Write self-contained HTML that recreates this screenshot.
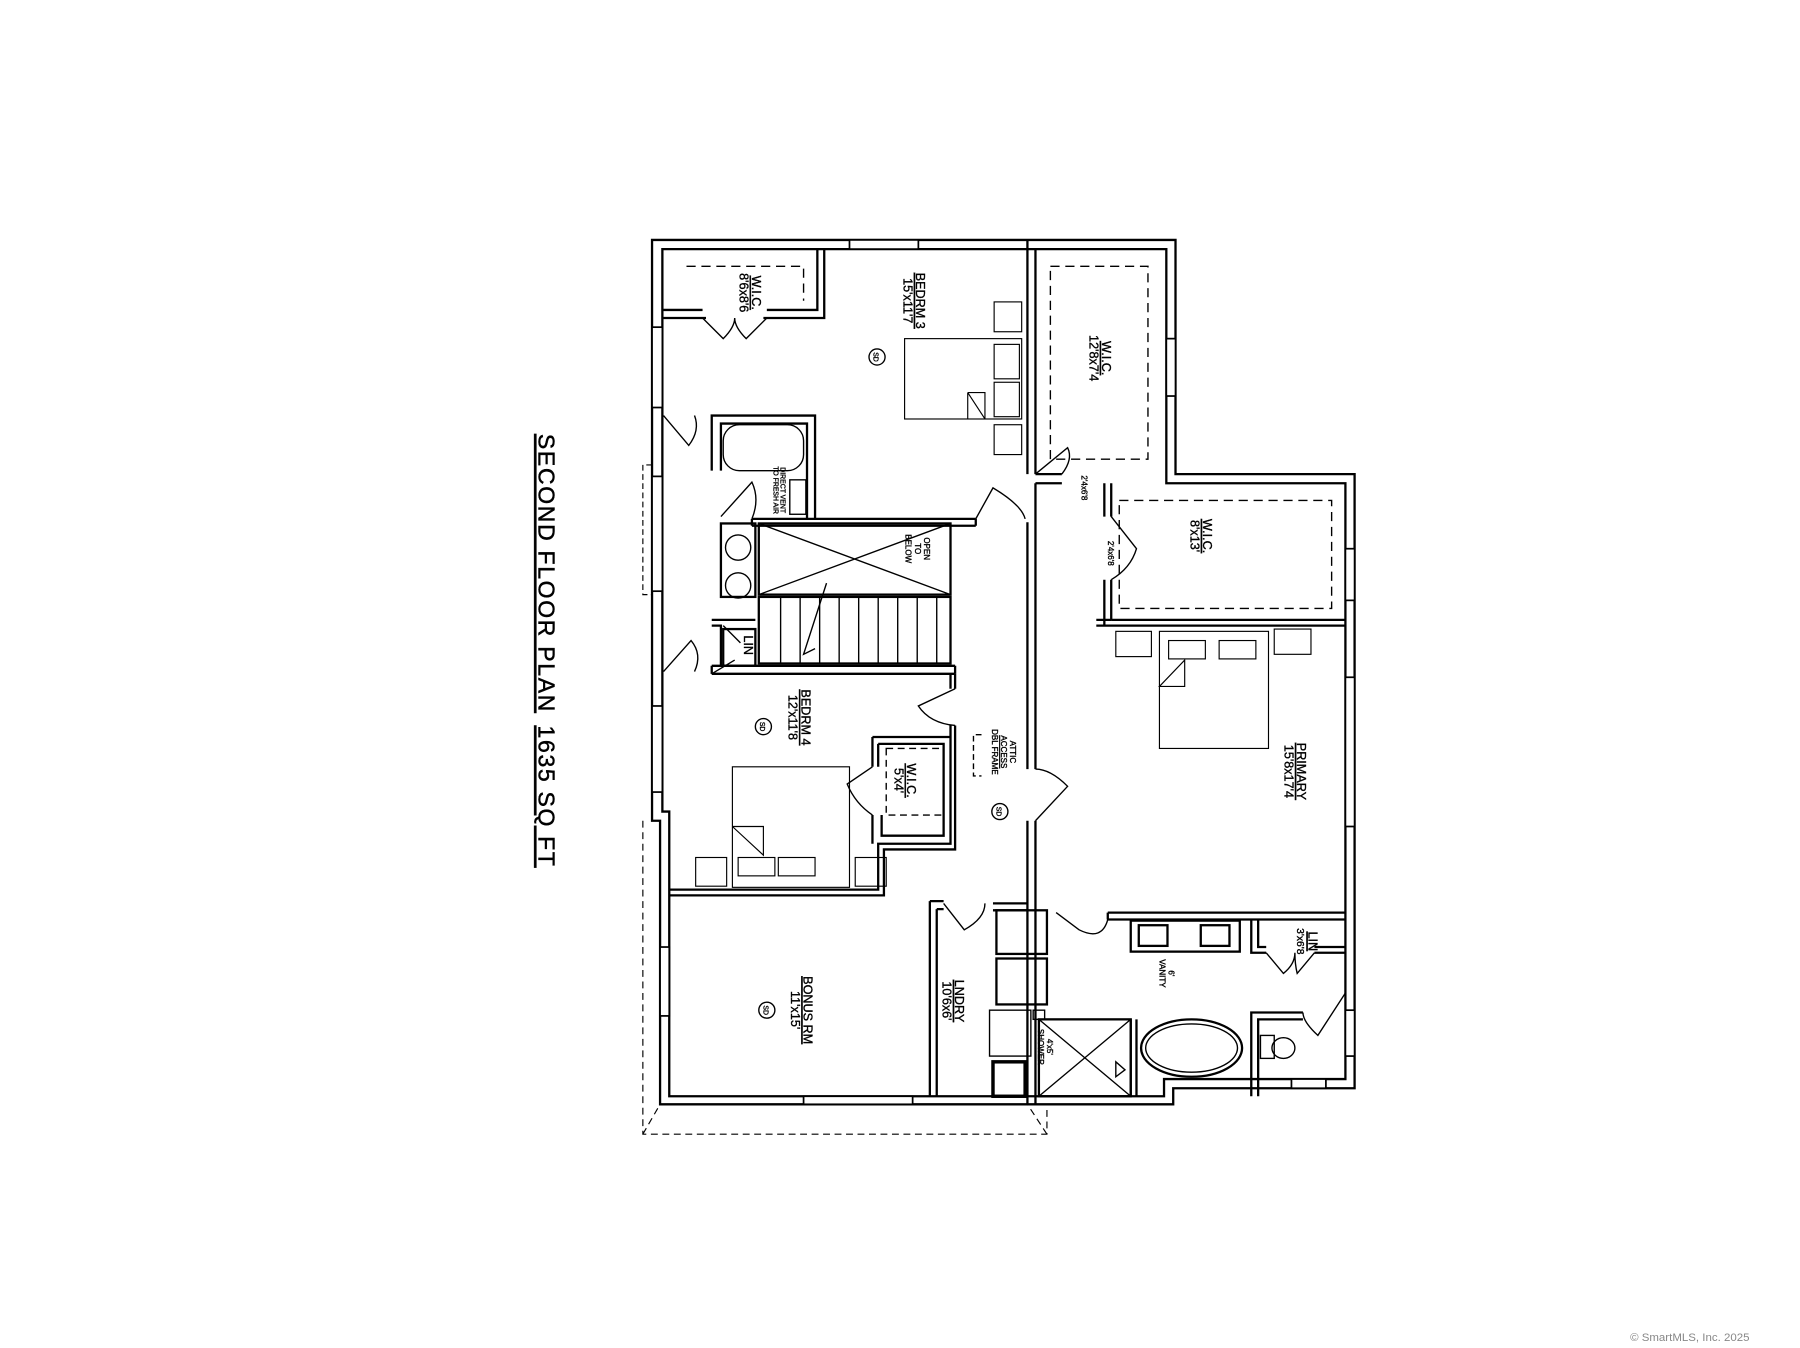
<!DOCTYPE html>
<html><head><meta charset="utf-8"><style>
html,body{margin:0;padding:0;background:#fff;}
svg{display:block;}
text{font-family:"Liberation Sans",sans-serif;fill:#000;}
</style></head><body>
<svg width="1800" height="1348" viewBox="0 0 1568 1174.3" preserveAspectRatio="none" xmlns="http://www.w3.org/2000/svg">
<rect x="0" y="0" width="1568" height="1175" fill="#fff"/>
<g fill="none" stroke="#000" stroke-width="2">
<path d="M568,209 H1024 V413 H1180 V948 H1022 V962 H575 V715 H568 Z"/>
<path d="M577,217 H1016 V421 H1172 V940 H1014 V955 H583 V707 H577 Z"/>
<path d="M568,405 H560 V518 H568" stroke-width="1" stroke-dasharray="5,3"/>
<path d="M560,715 V988 H912 V962" stroke-width="1" stroke-dasharray="6,4"/>
<path d="M560,988 L575,962 M912,988 L895,962" stroke-width="1" stroke-dasharray="6,4"/>
<path d="M895,209 V413 M902,217 V413"/>
<path d="M895,455 V670 M902,421 V670"/>
<path d="M895,715 V962 M902,715 V962"/>
<path d="M578,270 H612 M578,277 H615 M668,270 H712 V217 M665,277 H718 V217"/>
<path d="M902,413 H925 M902,421 H925"/>
<path d="M962,421 V450 M968,421 V450 M962,505 V545 M968,505 V540 M955,545 H1172 M955,540 H968 M968,540 H1172"/>
<path d="M620,410 V362 H710 V452 M628,410 V369 H703 V452"/>
<path d="M655,452 H850 M655,458 H850 M850,452 V458 M655,452 V458"/>
<path d="M620,580 H832 M620,587 H832 M620,580 V587 M832,580 V587"/>
<path d="M620,540 H658 M620,545 H628 V580"/>
<path d="M828,587 V600 M832,587 V600 M828,632 V735 H765 V775 H583 M832,632 V740 H770 V780 H583"/>
<path d="M760,642 H828 M760,642 V668 M765,648 H822 V728 H768 V710 M760,710 V735 M765,648 V668"/>
<path d="M810,785 V955 M816,792 V955 M810,785 H822 M816,792 H822"/>
<path d="M865,787 H895 M865,793 H895"/>
<path d="M965,795 H1172 M965,801 H1172 M965,795 V801"/>
<path d="M1090,801 V830 H1103 M1096,801 V825 H1103 M1145,830 H1172 M1145,825 H1172"/>
<path d="M1090,955 V882 H1135 M1096,955 V888 H1135"/>
<path d="M985,888 V955 M990,888 V955"/>
</g>
<g fill="#fff" stroke="#000" stroke-width="1.5">
<rect x="740" y="209" width="60" height="8"/><rect x="700" y="955" width="95" height="7"/>
<rect x="568" y="285" width="9" height="70"/><rect x="568" y="415" width="9" height="100"/>
<rect x="568" y="615" width="9" height="75"/><rect x="575" y="825" width="8" height="60"/>
<rect x="1016" y="295" width="8" height="50"/><rect x="1172" y="478" width="8" height="45"/>
<rect x="1172" y="590" width="8" height="130"/><rect x="1172" y="880" width="8" height="40"/>
<rect x="1125" y="940" width="30" height="8"/>
</g>
<g fill="none" stroke="#000" stroke-width="1.2">
<path d="M612,277 L630,295 Q640,285 640,277 M668,277 L650,295 Q640,285 640,277"/>
<path d="M578,362 L600,388 Q610,375 605,362"/>
<path d="M578,585 L602,558 Q612,570 605,585"/>
<path d="M628,450 L655,420 Q662,435 655,452"/>
<path d="M850,452 L865,425 Q890,440 893,452"/>
<path d="M902,413 L930,390 Q935,400 925,413"/>
<path d="M968,450 L990,478 Q985,495 968,505"/>
<path d="M832,600 L800,615 Q810,630 832,632"/>
<path d="M902,715 L930,685 Q915,670 902,670"/>
<path d="M760,668 L738,683 Q745,700 760,710"/>
<path d="M822,787 L840,810 Q858,800 858,787"/>
<path d="M920,795 L940,810 Q960,820 965,801"/>
<path d="M1103,830 L1118,848 Q1128,840 1128,830 M1145,830 L1130,848 Q1128,840 1128,830"/>
<path d="M1172,865 L1148,902 Q1135,890 1135,882"/>
<path d="M630,545 L645,560 M620,587 L640,575"/>
</g>
<g fill="none" stroke="#000" stroke-width="1.2">
<rect x="630" y="370" width="70" height="40" rx="14"/>
<rect x="688" y="418" width="14" height="30"/>
<rect x="628" y="456" width="30" height="64" stroke-width="2"/>
<circle cx="643" cy="477" r="11"/><circle cx="643" cy="510" r="11"/>
<rect x="630" y="548" width="28" height="32" stroke-width="2"/>
<rect x="661" y="456" width="167" height="62" stroke-width="2"/>
<path d="M661,456 L828,518 M661,518 L828,456"/>
<rect x="661" y="520" width="167" height="58" stroke-width="2"/>
<path d="M680,520 V578 M697,520 V578 M714,520 V578 M731,520 V578 M748,520 V578 M765,520 V578 M782,520 V578 M799,520 V578 M816,520 V578"/>
<path d="M720,508 L700,570 L710,565"/>
<rect x="868" y="793" width="44" height="38" stroke-width="2"/><rect x="868" y="835" width="44" height="40" stroke-width="2"/>
<rect x="862" y="880" width="36" height="40"/><rect x="900" y="880" width="10" height="8"/>
<rect x="865" y="925" width="28" height="30" stroke-width="3"/>
<rect x="905" y="888" width="80" height="67" stroke-width="2"/>
<path d="M905,888 L985,955 M905,955 L985,888"/>
<path d="M972,925 L980,932 L972,938 Z"/>
<rect x="985" y="802" width="95" height="27" stroke-width="2"/>
<rect x="992" y="806" width="25" height="18" stroke-width="2"/><rect x="1046" y="806" width="25" height="18" stroke-width="2"/>
<ellipse cx="1038" cy="913" rx="44" ry="25" stroke-width="2"/><ellipse cx="1038" cy="913" rx="40" ry="21"/>
<rect x="1098" y="902" width="12" height="20"/><ellipse cx="1118" cy="913" rx="10" ry="9"/>
<path d="M598,232 H700 V262" stroke-dasharray="8,5"/>
<rect x="915" y="232" width="85" height="168" stroke-dasharray="8,5"/>
<rect x="975" y="436" width="185" height="94" stroke-dasharray="8,5"/>
<rect x="772" y="652" width="50" height="58" stroke-dasharray="6,4"/>
<path d="M855,640 H848 V676 H855" stroke-dasharray="5,3"/>
<rect x="788" y="295" width="102" height="70" stroke-width="1"/>
<rect x="866" y="300" width="22" height="30" stroke-width="1"/><rect x="866" y="333" width="22" height="30" stroke-width="1"/>
<path d="M843,342 L858,342 L858,365 M843,342 L843,365 M843,342 L858,365" stroke-width="1"/>
<rect x="866" y="263" width="24" height="26" stroke-width="1"/><rect x="866" y="370" width="24" height="26" stroke-width="1"/>
<rect x="1010" y="550" width="95" height="102" stroke-width="1"/>
<rect x="1018" y="558" width="32" height="16" stroke-width="1"/><rect x="1062" y="558" width="32" height="16" stroke-width="1"/>
<path d="M1010,598 L1032,575 L1032,598 Z" stroke-width="1"/>
<rect x="972" y="550" width="31" height="22" stroke-width="1"/><rect x="1110" y="548" width="32" height="22" stroke-width="1"/>
<rect x="638" y="668" width="102" height="105" stroke-width="1"/>
<rect x="643" y="747" width="32" height="16" stroke-width="1"/><rect x="678" y="747" width="32" height="16" stroke-width="1"/>
<path d="M638,720 L665,720 L665,745 L638,720" stroke-width="1"/>
<rect x="606" y="747" width="27" height="25" stroke-width="1"/><rect x="745" y="747" width="27" height="25" stroke-width="1"/>
<circle cx="764" cy="311" r="7"/><circle cx="665" cy="633" r="7"/><circle cx="871" cy="707" r="7"/><circle cx="668" cy="880" r="7"/>
</g>
<g font-size="11" stroke="#000" stroke-width="0.3">
<text transform="translate(764,311) rotate(90)" text-anchor="middle" dy="3" font-size="6">SD</text>
<text transform="translate(665,633) rotate(90)" text-anchor="middle" dy="3" font-size="6">SD</text>
<text transform="translate(871,707) rotate(90)" text-anchor="middle" dy="3" font-size="6">SD</text>
<text transform="translate(668,880) rotate(90)" text-anchor="middle" dy="3" font-size="6">SD</text>
<text transform="translate(655,255) rotate(90)" text-anchor="middle"><tspan x="0" text-decoration="underline">W.I.C.</tspan><tspan x="0" dy="11">8'6x8'6</tspan></text>
<text transform="translate(798,262) rotate(90)" text-anchor="middle"><tspan x="0" text-decoration="underline">BEDRM 3</tspan><tspan x="0" dy="11">15'x11'7</tspan></text>
<text transform="translate(960,312) rotate(90)" text-anchor="middle"><tspan x="0" text-decoration="underline">W.I.C.</tspan><tspan x="0" dy="11">12'8x7'4</tspan></text>
<text transform="translate(1048,467) rotate(90)" text-anchor="middle"><tspan x="0" text-decoration="underline">W.I.C.</tspan><tspan x="0" dy="11">8'x13'</tspan></text>
<text transform="translate(1130,672) rotate(90)" text-anchor="middle"><tspan x="0" text-decoration="underline">PRIMARY</tspan><tspan x="0" dy="11">15'8x17'4</tspan></text>
<text transform="translate(698,625) rotate(90)" text-anchor="middle"><tspan x="0" text-decoration="underline">BEDRM 4</tspan><tspan x="0" dy="11">12'x11'8</tspan></text>
<text transform="translate(790,680) rotate(90)" text-anchor="middle"><tspan x="0" text-decoration="underline">W.I.C.</tspan><tspan x="0" dy="11">5'x4'</tspan></text>
<text transform="translate(700,880) rotate(90)" text-anchor="middle"><tspan x="0" text-decoration="underline">BONUS RM</tspan><tspan x="0" dy="11">11'x15'</tspan></text>
<text transform="translate(832,872) rotate(90)" text-anchor="middle"><tspan x="0" text-decoration="underline">LNDRY</tspan><tspan x="0" dy="11">10'6x6'</tspan></text>
<text transform="translate(648,562) rotate(90)" text-anchor="middle">LIN</text>
<text transform="translate(1140,820) rotate(90)" text-anchor="middle" font-size="9"><tspan x="0" font-size="11" text-decoration="underline">LIN</tspan><tspan x="0" dy="10">3'x6'8</tspan></text>
<text transform="translate(880,655) rotate(90)" text-anchor="middle" font-size="7"><tspan x="0">ATTIC</tspan><tspan x="0" dy="8" text-decoration="underline">ACCESS</tspan><tspan x="0" dy="8">DBL FRAME</tspan></text>
<text transform="translate(805,478) rotate(90)" text-anchor="middle" font-size="7"><tspan x="0">OPEN</tspan><tspan x="0" dy="8">TO</tspan><tspan x="0" dy="8">BELOW</tspan></text>
<text transform="translate(680,427) rotate(90)" text-anchor="middle" font-size="6"><tspan x="0">DIRECT VENT</tspan><tspan x="0" dy="6">TO FRESH AIR</tspan></text>
<text transform="translate(912,912) rotate(90)" text-anchor="middle" font-size="7"><tspan x="0">4'x5'</tspan><tspan x="0" dy="8">SHOWER</tspan></text>
<text transform="translate(1018,848) rotate(90)" text-anchor="middle" font-size="7"><tspan x="0">6'</tspan><tspan x="0" dy="8">VANITY</tspan></text>
<text transform="translate(942,425) rotate(90)" text-anchor="middle" font-size="7">2'4x6'8</text>
<text transform="translate(965,482) rotate(90)" text-anchor="middle" font-size="7">2'4x6'8</text>
</g>
<g stroke="#000" stroke-width="0.4">
<text transform="translate(469,378) rotate(90)" font-size="20" letter-spacing="1.5" text-decoration="underline">SECOND FLOOR PLAN</text>
<text transform="translate(469,632) rotate(90)" font-size="20" letter-spacing="1.5" text-decoration="underline">1635 SQ FT</text>
</g>
<text x="1420" y="1168" font-size="10" style="fill:#888">© SmartMLS, Inc. 2025</text>
</svg>
</body></html>
